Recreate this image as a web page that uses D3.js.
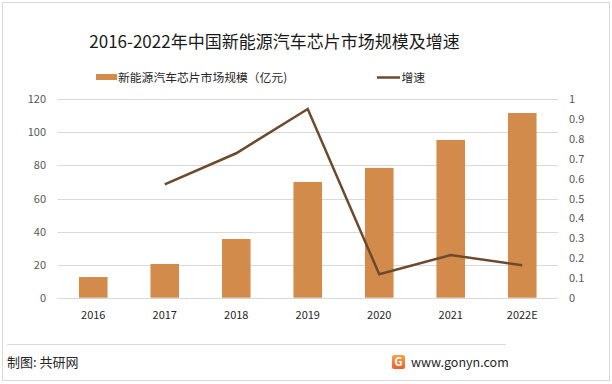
<!DOCTYPE html>
<html><head><meta charset="utf-8">
<script src="https://cdn.jsdelivr.net/npm/d3@7"></script>
<style>body{margin:0;background:#fff}svg{display:block}text{font-family:"Noto Sans CJK SC","Noto Sans",sans-serif}</style>
</head><body>
<script>
const categories = ["2016","2017","2018","2019","2020","2021","2022E"];
const marketSize = [12.5, 20.4, 35.5, 70.0, 78.5, 95.4, 111.7];
const growth = [null, 0.571, 0.728, 0.951, 0.118, 0.215, 0.163];
const leftTicks = [0,20,40,60,80,100,120];
const rightTicks = [0,0.1,0.2,0.3,0.4,0.5,0.6,0.7,0.8,0.9,1];
const title = "2016-2022年中国新能源汽车芯片市场规模及增速";
const barName = "新能源汽车芯片市场规模（亿元)";
const lineName = "增速";

(function(){
const W=612,H=384;
const svg=d3.select("body").append("svg").attr("width",W).attr("height",H);
svg.append("rect").attr("x",2.5).attr("y",2.5).attr("width",W-5).attr("height",H-6).attr("fill","#fff").attr("stroke","#d9d9d9");

const pL=57.5,pR=558,pT=99.3,pB=297.7;
const x=d3.scaleBand().domain(categories).range([pL,pR]).paddingInner(0.6).paddingOuter(0.3);
const yL=d3.scaleLinear().domain([0,120]).range([pB,pT]);
const yR=d3.scaleLinear().domain([0,1]).range([pB,pT]);

svg.append("g").selectAll("line").data(leftTicks).join("line")
 .attr("x1",pL).attr("x2",pR).attr("y1",d=>Math.round(yL(d))+0.5).attr("y2",d=>Math.round(yL(d))+0.5)
 .attr("stroke","#d9d9d9").attr("stroke-width",1);

svg.append("g").selectAll("rect").data(marketSize).join("rect")
 .attr("x",(d,i)=>x(categories[i])).attr("width",x.bandwidth())
 .attr("y",d=>yL(d)).attr("height",d=>yL(0)-yL(d)).attr("fill","#D38B4C");

const lineData=growth.map((v,i)=>({c:categories[i],v})).filter(d=>d.v!=null);
svg.append("path").datum(lineData)
 .attr("d",d3.line().x(d=>x(d.c)+x.bandwidth()/2).y(d=>yR(d.v)))
 .attr("fill","none").attr("stroke","#6B4A2E").attr("stroke-width",2.5).attr("stroke-linejoin","miter");

const axL=d3.axisLeft(yL).tickValues(leftTicks).tickSize(0).tickPadding(0);
const gL=svg.append("g").attr("transform",`translate(46,0)`).call(axL);
const axR=d3.axisRight(yR).tickValues(rightTicks).tickSize(0).tickPadding(0).tickFormat(d=>String(+d.toFixed(1)));
const gR=svg.append("g").attr("transform",`translate(569,0)`).call(axR);
const axB=d3.axisBottom(x).tickSize(0).tickPadding(0);
const gB=svg.append("g").attr("transform",`translate(0,311)`).call(axB);
[gL,gR,gB].forEach(g=>{g.select(".domain").remove();g.selectAll("text").attr("font-size",11).attr("font-family","'Noto Sans',sans-serif");});
gL.selectAll("text").attr("fill","#595959");
gR.selectAll("text").attr("fill","#595959");
gB.selectAll("text").attr("fill","#262626");

svg.append("text").attr("x",274.5).attr("y",48).attr("text-anchor","middle").attr("font-size",17).attr("fill","#1a1a1a").text(title);

svg.append("rect").attr("x",96).attr("y",74).attr("width",21).attr("height",6).attr("fill","#D38B4C");
svg.append("text").attr("x",118).attr("y",81.5).attr("font-size",11.8).attr("fill","#262626").text(barName);
svg.append("line").attr("x1",377).attr("x2",400).attr("y1",77.5).attr("y2",77.5).attr("stroke","#6B4A2E").attr("stroke-width",2.5);
svg.append("text").attr("x",401.5).attr("y",81.5).attr("font-size",11.8).attr("fill","#262626").text(lineName);

svg.append("line").attr("x1",7).attr("x2",506).attr("y1",344.5).attr("y2",344.5).attr("stroke","#d9d9d9");
svg.append("text").attr("x",7).attr("y",367).attr("font-size",13).attr("fill","#262626").text("制图: 共研网");
const defs=svg.append("defs");
const grad=defs.append("linearGradient").attr("id","lg").attr("x1",0).attr("y1",0).attr("x2",0).attr("y2",1);
grad.append("stop").attr("offset","0%").attr("stop-color","#F7A24B");
grad.append("stop").attr("offset","100%").attr("stop-color","#E9602E");
svg.append("rect").attr("x",392).attr("y",355).attr("width",13).attr("height",14).attr("rx",2).attr("fill","url(#lg)");
svg.append("text").attr("x",398.5).attr("y",366).attr("text-anchor","middle").attr("font-size",11).attr("font-weight","bold").attr("fill","#fff").attr("font-family","'Noto Sans',sans-serif").text("G");
svg.append("text").attr("x",411).attr("y",367).attr("font-size",12.5).attr("fill","#262626").attr("font-family","'Noto Sans',sans-serif").text("www.gonyn.com");
})();
</script>
</body></html>
